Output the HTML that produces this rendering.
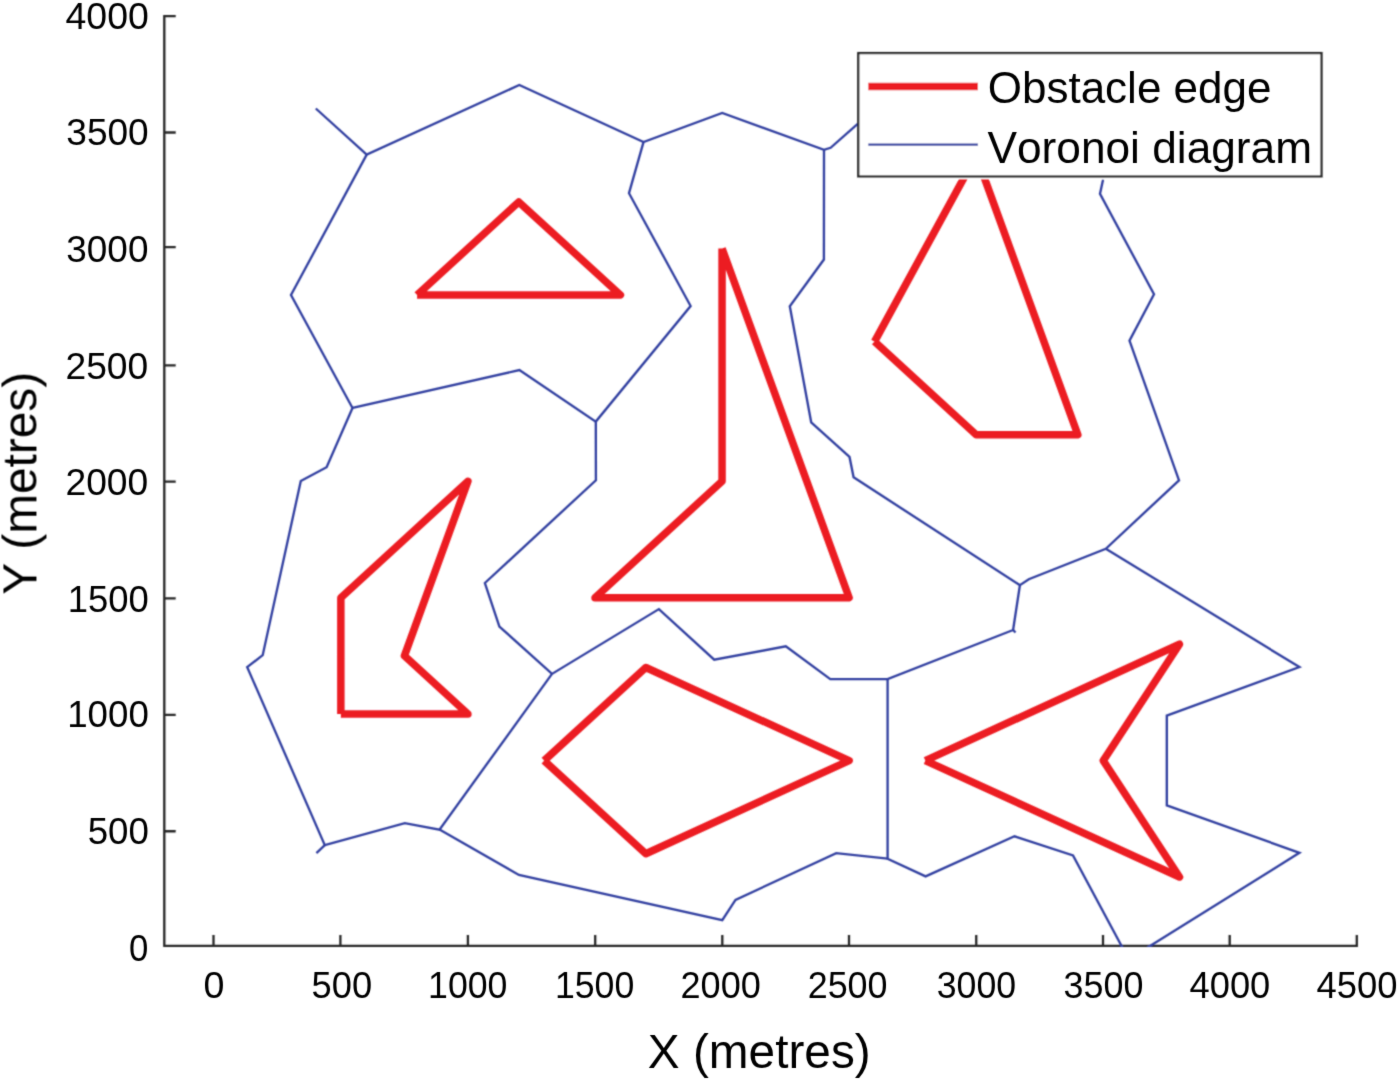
<!DOCTYPE html><html><head><meta charset="utf-8"><style>html,body{margin:0;padding:0;background:#fff;overflow:hidden;}svg{display:block;}text{font-family:"Liberation Sans",sans-serif;fill:#000;font-kerning:none;font-feature-settings:"kern" 0;}</style></head><body>
<svg width="1400" height="1081" viewBox="0 0 1400 1081">
<rect width="1400" height="1081" fill="#fff"/>
<defs>
<clipPath id="ax"><rect x="164.3" y="16.1" width="1192.5" height="930.8"/></clipPath>
<filter id="bl" filterUnits="userSpaceOnUse" x="0" y="0" width="1400" height="1081"><feConvolveMatrix order="3" kernelMatrix="0.0400 0.1200 0.0400 0.1200 0.3600 0.1200 0.0400 0.1200 0.0400" divisor="1" edgeMode="none"/></filter>
<filter id="blt" filterUnits="userSpaceOnUse" x="0" y="0" width="1400" height="1081"><feConvolveMatrix order="3" kernelMatrix="0.0100 0.0800 0.0100 0.0800 0.6400 0.0800 0.0100 0.0800 0.0100" divisor="1" edgeMode="none"/></filter>
</defs>
<g filter="url(#bl)">
<path d="M164.3,16.1 V945.8 H1356.8 M164.3,16.1 h10.25 M164.3,132.5 h10.25 M164.3,247.1 h10.25 M164.3,365.4 h10.25 M164.3,481.7 h10.25 M164.3,598.4 h10.25 M164.3,714.9 h10.25 M164.3,831.25 h10.25 M164.3,945.8 h10.25 M213.5,945.8 v-9.75 M340.4,945.8 v-9.75 M467.9,945.8 v-9.75 M595.2,945.8 v-9.75 M722.3,945.8 v-9.75 M849.0,945.8 v-9.75 M976.25,945.8 v-9.75 M1103.0,945.8 v-9.75 M1229.7,945.8 v-9.75 M1356.8,945.8 v-9.75" fill="none" stroke="#262626" stroke-width="2.3" stroke-linecap="square"/>
<g clip-path="url(#ax)">
<polyline points="315.8,108.5 366.7,154.6 519.3,85 643.5,142.1 722.2,113 824,149.8 830.6,147.8 858,123.7" fill="none" stroke="#3240a0" stroke-width="2.35" stroke-linejoin="miter"/>
<polyline points="366.7,154.6 291,295 352.5,408 519.4,370.1 595.8,421.6 690.6,306 629,193.2 643.5,142.1" fill="none" stroke="#3240a0" stroke-width="2.35" stroke-linejoin="miter"/>
<polyline points="824,149.8 823.9,259.5 789.8,306.3 811.2,422.3 849.5,456.9 853.6,477.3 1019.9,585.2 1028.8,579.2 1105.8,548.8 1179,480.3 1129.5,340.7 1154,294.3 1100,193.8 1103.1,179.4" fill="none" stroke="#3240a0" stroke-width="2.35" stroke-linejoin="miter"/>
<polyline points="1105.8,548.8 1299.4,667.1 1166.8,715.6 1166.8,805.4 1299.4,852.8 1147.6,947.5" fill="none" stroke="#3240a0" stroke-width="2.35" stroke-linejoin="miter"/>
<polyline points="1019.9,585.2 1013.1,630 887.6,679.1 830.3,679.1 785.8,646.3 714.2,659.7 658.9,609.1 552,673.9 499.4,626.5 484.9,583 595.9,480.3 595.8,421.6" fill="none" stroke="#3240a0" stroke-width="2.35" stroke-linejoin="miter"/>
<polyline points="1013.1,630 1015.5,632.5" fill="none" stroke="#3240a0" stroke-width="2.35" stroke-linejoin="miter"/>
<polyline points="887.6,679.1 887.6,858.7 925.6,876.4 1014.5,836.3 1073,855.4 1122.4,947.5" fill="none" stroke="#3240a0" stroke-width="2.35" stroke-linejoin="miter"/>
<polyline points="552,673.9 439.5,829.6 404.8,823.2 324.8,845.2 247.2,667.1 262.7,655.2 300.8,481 326.6,467.2 352.5,408" fill="none" stroke="#3240a0" stroke-width="2.35" stroke-linejoin="miter"/>
<polyline points="324.8,845.2 316.4,853.1" fill="none" stroke="#3240a0" stroke-width="2.35" stroke-linejoin="miter"/>
<polyline points="439.5,829.6 518.9,874.9 722.3,920.2 735.5,899.9 836.2,853.1 887.6,858.7" fill="none" stroke="#3240a0" stroke-width="2.35" stroke-linejoin="miter"/>
<path d="M417.1,295.03 L518.76,201.92 L620.41,295.03 L417.1,295.03" fill="none" stroke="#ec1c24" stroke-width="7.5" stroke-linejoin="round" stroke-linecap="butt"/>
<path d="M722.06,248.48 L849.13,597.66 L595,597.66 L722.06,481.26 L722.06,248.48" fill="none" stroke="#ec1c24" stroke-width="7.5" stroke-linejoin="round" stroke-linecap="butt"/>
<path d="M874.54,341.59 L976.19,155.36 L1077.84,434.71 L976.19,434.71 L874.54,341.59" fill="none" stroke="#ec1c24" stroke-width="7.5" stroke-linejoin="round" stroke-linecap="butt"/>
<path d="M340.87,714.05 L467.93,714.05 L404.4,655.85 L467.93,481.26 L340.87,597.66 L340.87,714.05" fill="none" stroke="#ec1c24" stroke-width="7.5" stroke-linejoin="round" stroke-linecap="butt"/>
<path d="M544.17,760.61 L645.82,667.49 L849.13,760.61 L645.82,853.72 L544.17,760.61" fill="none" stroke="#ec1c24" stroke-width="7.5" stroke-linejoin="round" stroke-linecap="butt"/>
<path d="M925.36,760.61 L1179.49,644.22 L1103.26,760.61 L1179.49,877 L925.36,760.61" fill="none" stroke="#ec1c24" stroke-width="7.5" stroke-linejoin="round" stroke-linecap="butt"/>
</g>
<rect x="858.3" y="53.1" width="463.2" height="126.1" fill="#fff"/>
<rect x="858.3" y="53.1" width="463.2" height="123.4" fill="none" stroke="#262626" stroke-width="2.3"/>
<line x1="868.3" y1="86.4" x2="977.9" y2="86.4" stroke="#ec1c24" stroke-width="7.5"/>
<line x1="868.3" y1="144.6" x2="977.9" y2="144.6" stroke="#3240a0" stroke-width="2.35"/>
</g>
<g filter="url(#blt)">
<text transform="translate(65.54,28.83) scale(1.0123,1.0154)" font-size="37">4000</text>
<text transform="translate(66.29,145.14) scale(1.0018,0.9887)" font-size="37">3500</text>
<text transform="translate(66.29,262.03) scale(0.9980,1.0192)" font-size="37">3000</text>
<text transform="translate(65.43,378.54) scale(1.0063,0.9887)" font-size="37">2500</text>
<text transform="translate(65.43,495.04) scale(1.0063,0.9887)" font-size="37">2000</text>
<text transform="translate(67.72,611.64) scale(0.9853,0.9925)" font-size="37">1500</text>
<text transform="translate(67.2,727.34) scale(0.9917,0.9887)" font-size="37">1000</text>
<text transform="translate(87.63,844.34) scale(0.9914,1.0078)" font-size="37">500</text>
<text transform="translate(129.04,960.53) scale(0.9385,1.0154)" font-size="37">0</text>
<text transform="translate(203.53,997.53) scale(1.0177,1.0116)" font-size="37">0</text>
<text transform="translate(311.55,997.53) scale(0.9812,1.0116)" font-size="37">500</text>
<text transform="translate(428.08,997.53) scale(0.9648,1.0116)" font-size="37">1000</text>
<text transform="translate(554.88,997.53) scale(0.9648,1.0116)" font-size="37">1500</text>
<text transform="translate(680.48,997.53) scale(0.9759,1.0116)" font-size="37">2000</text>
<text transform="translate(807.7,997.53) scale(0.9696,1.0116)" font-size="37">2500</text>
<text transform="translate(936.74,997.53) scale(0.9641,1.0116)" font-size="37">3000</text>
<text transform="translate(1063.53,997.53) scale(0.9703,1.0116)" font-size="37">3500</text>
<text transform="translate(1189.57,997.53) scale(0.9811,1.0116)" font-size="37">4000</text>
<text transform="translate(1316.56,997.53) scale(0.9836,1.0116)" font-size="37">4500</text>
<text transform="translate(647.83,1068.1) scale(0.995,1.01)" font-size="48">X (metres)</text>
<text transform="translate(36.9,594.65) rotate(-90) scale(0.995,1.01)" font-size="48">Y (metres)</text>
<text transform="translate(987.72,102.7) scale(1.0000,1.0)" font-size="44">Obstacle edge</text>
<text transform="translate(987.51,163.1) scale(1.0052,1.0)" font-size="44">Voronoi diagram</text>
</g>
</svg></body></html>
